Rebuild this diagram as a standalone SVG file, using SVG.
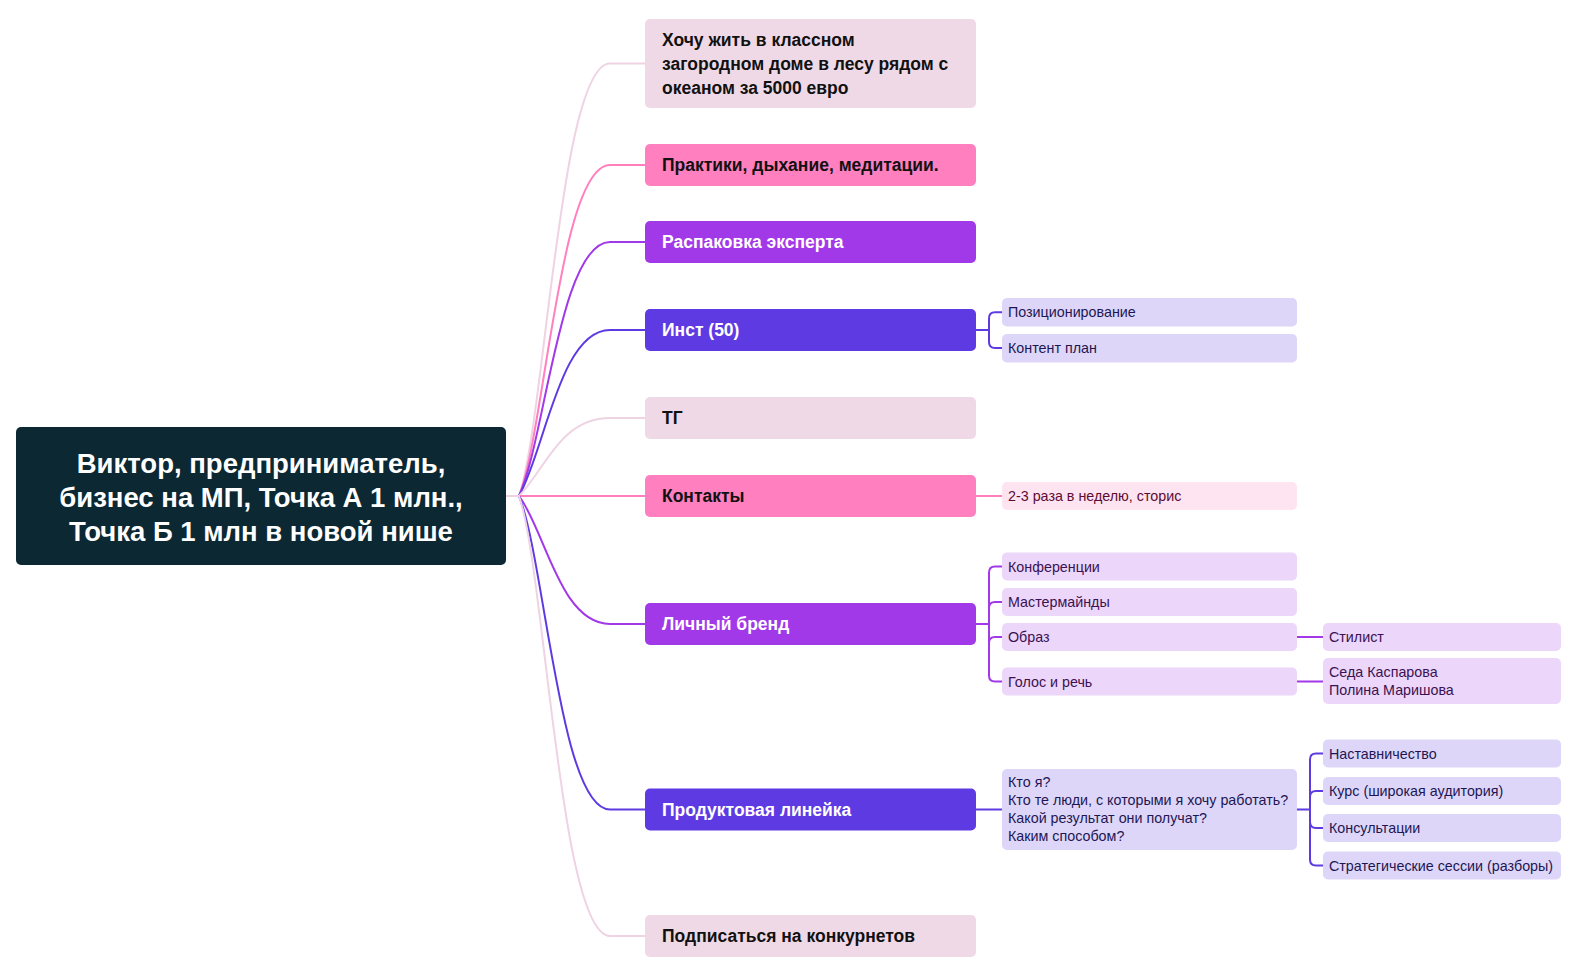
<svg xmlns="http://www.w3.org/2000/svg" width="1578" height="977" viewBox="0 0 1578 977">
<style>
text{font-family:"Liberation Sans",Arial,sans-serif}
.root{font-size:27.5px;font-weight:bold;fill:#ffffff}
.l1{font-size:17.5px;font-weight:bold}
.dk{fill:#111111}
.wh{fill:#ffffff}
.l2{font-size:14.3px}
.tv{fill:#1e1654}
.tl{fill:#3b1152}
.tp{fill:#5c0b35}
.c{fill:none;stroke-width:2}
.cpale{stroke:#efd3e3}
.cpink{stroke:#ff7fbf}
.cpur{stroke:#a239e8}
.cblu{stroke:#5e3ae3}
</style>
<rect width="1578" height="977" fill="#ffffff"/>
<g id="connectors">
<path class="c cpale" d="M506 496 L519 496 C545 420 560 63.5 610 63.5 L645 63.5"/>
<path class="c cpink" d="M506 496 L519 496 C545 430 560 165 610 165 L645 165"/>
<path class="c cpur" d="M506 496 L519 496 C545 440 560 242 610 242 L645 242"/>
<path class="c cblu" d="M506 496 L519 496 C545 450 560 330 610 330 L645 330"/>
<path class="c cpale" d="M506 496 L519 496 C545 470 560 418 610 418 L645 418"/>
<path class="c cpink" d="M506 496 L645 496"/>
<path class="c cpur" d="M506 496 L519 496 C545 530 560 624 610 624 L645 624"/>
<path class="c cblu" d="M506 496 L519 496 C545 560 560 809.5 610 809.5 L645 809.5"/>
<path class="c cpale" d="M506 496 L519 496 C545 570 560 936 610 936 L645 936"/>
<path class="c cblu" d="M976 330 H989 M989 330 V318.3 Q989 312.3 995 312.3 H1002 M989 330 V342 Q989 348 995 348 H1002"/>
<path class="c cpink" d="M976 496 H1002"/>
<path class="c cpur" d="M976 624 H989 M989 624 V572.5 Q989 566.5 995 566.5 H1002 M989 624 V608 Q989 602 995 602 H1002 M989 624 V643 Q989 637 995 637 H1002 M989 624 V675.5 Q989 681.5 995 681.5 H1002"/>
<path class="c cpur" d="M1297 637 H1323 M1297 681.5 H1323"/>
<path class="c cblu" d="M976 809.5 H1002"/>
<path class="c cblu" d="M1297 809.5 H1310 M1310 809.5 V759.5 Q1310 753.5 1316 753.5 H1323 M1310 809.5 V797 Q1310 791 1316 791 H1323 M1310 809.5 V822 Q1310 828 1316 828 H1323 M1310 809.5 V859.5 Q1310 865.5 1316 865.5 H1323"/>
</g>
<g id="root">
<rect x="16" y="427" width="490" height="138" rx="5" fill="#0b2833"/>
<text class="root" x="261" y="473" text-anchor="middle">Виктор, предприниматель,</text>
<text class="root" x="261" y="507" text-anchor="middle">бизнес на МП, Точка А 1 млн.,</text>
<text class="root" x="261" y="541" text-anchor="middle">Точка Б 1 млн в новой нише</text>
</g>
<g id="n-dream">
<rect x="645" y="19" width="331" height="89" rx="5" fill="#f0d9e6"/>
<text class="l1 dk" x="662" y="46">Хочу жить в классном</text>
<text class="l1 dk" x="662" y="70">загородном доме в лесу рядом с</text>
<text class="l1 dk" x="662" y="94">океаном за 5000 евро</text>
</g>
<g id="n-practice">
<rect x="645" y="144" width="331" height="42" rx="5" fill="#ff7fbf"/>
<text class="l1 dk" x="662" y="171">Практики, дыхание, медитации.</text>
</g>
<g id="n-unpack">
<rect x="645" y="221" width="331" height="42" rx="5" fill="#a239e8"/>
<text class="l1 wh" x="662" y="248">Распаковка эксперта</text>
</g>
<g id="n-inst">
<rect x="645" y="309" width="331" height="42" rx="5" fill="#5e3ae3"/>
<text class="l1 wh" x="662" y="336">Инст (50)</text>
</g>
<g id="n-tg">
<rect x="645" y="397" width="331" height="42" rx="5" fill="#f0d9e6"/>
<text class="l1 dk" x="662" y="424">ТГ</text>
</g>
<g id="n-contacts">
<rect x="645" y="475" width="331" height="42" rx="5" fill="#ff7fbf"/>
<text class="l1 dk" x="662" y="502">Контакты</text>
</g>
<g id="n-brand">
<rect x="645" y="603" width="331" height="42" rx="5" fill="#a239e8"/>
<text class="l1 wh" x="662" y="630">Личный бренд</text>
</g>
<g id="n-product">
<rect x="645" y="788.5" width="331" height="42" rx="5" fill="#5e3ae3"/>
<text class="l1 wh" x="662" y="815.5">Продуктовая линейка</text>
</g>
<g id="n-compet">
<rect x="645" y="915" width="331" height="42" rx="5" fill="#f0d9e6"/>
<text class="l1 dk" x="662" y="942">Подписаться на конкурнетов</text>
</g>
<g id="n-position">
<rect x="1002" y="298" width="295" height="28.5" rx="5" fill="#ddd6f9"/>
<text class="l2 tv" x="1008" y="317.3">Позиционирование</text>
</g>
<g id="n-content">
<rect x="1002" y="334" width="295" height="28.5" rx="5" fill="#ddd6f9"/>
<text class="l2 tv" x="1008" y="353">Контент план</text>
</g>
<g id="n-stories">
<rect x="1002" y="482" width="295" height="28" rx="5" fill="#fee3f1"/>
<text class="l2 tp" x="1008" y="501">2-3 раза в неделю, сторис</text>
</g>
<g id="n-conf">
<rect x="1002" y="552.5" width="295" height="28" rx="5" fill="#ecd6fa"/>
<text class="l2 tl" x="1008" y="571.5">Конференции</text>
</g>
<g id="n-mm">
<rect x="1002" y="588" width="295" height="28" rx="5" fill="#ecd6fa"/>
<text class="l2 tl" x="1008" y="607">Мастермайнды</text>
</g>
<g id="n-image">
<rect x="1002" y="623" width="295" height="28" rx="5" fill="#ecd6fa"/>
<text class="l2 tl" x="1008" y="642">Образ</text>
</g>
<g id="n-voice">
<rect x="1002" y="667.5" width="295" height="28" rx="5" fill="#ecd6fa"/>
<text class="l2 tl" x="1008" y="686.5">Голос и речь</text>
</g>
<g id="n-stylist">
<rect x="1323" y="623" width="238" height="28" rx="5" fill="#ecd6fa"/>
<text class="l2 tl" x="1329" y="642">Стилист</text>
</g>
<g id="n-names">
<rect x="1323" y="658" width="238" height="46" rx="5" fill="#ecd6fa"/>
<text class="l2 tl" x="1329" y="677">Седа Каспарова</text>
<text class="l2 tl" x="1329" y="695">Полина Маришова</text>
</g>
<g id="n-questions">
<rect x="1002" y="769" width="295" height="81" rx="5" fill="#ddd6f9"/>
<text class="l2 tv" x="1008" y="787">Кто я?</text>
<text class="l2 tv" x="1008" y="805">Кто те люди, с которыми я хочу работать?</text>
<text class="l2 tv" x="1008" y="823">Какой результат они получат?</text>
<text class="l2 tv" x="1008" y="841">Каким способом?</text>
</g>
<g id="n-mentor">
<rect x="1323" y="739.5" width="238" height="28" rx="5" fill="#ddd6f9"/>
<text class="l2 tv" x="1329" y="758.5">Наставничество</text>
</g>
<g id="n-course">
<rect x="1323" y="777" width="238" height="28" rx="5" fill="#ddd6f9"/>
<text class="l2 tv" x="1329" y="796">Курс (широкая аудитория)</text>
</g>
<g id="n-consult">
<rect x="1323" y="814" width="238" height="28" rx="5" fill="#ddd6f9"/>
<text class="l2 tv" x="1329" y="833">Консультации</text>
</g>
<g id="n-sessions">
<rect x="1323" y="851.5" width="238" height="28" rx="5" fill="#ddd6f9"/>
<text class="l2 tv" x="1329" y="870.5">Стратегические сессии (разборы)</text>
</g>
</svg>
